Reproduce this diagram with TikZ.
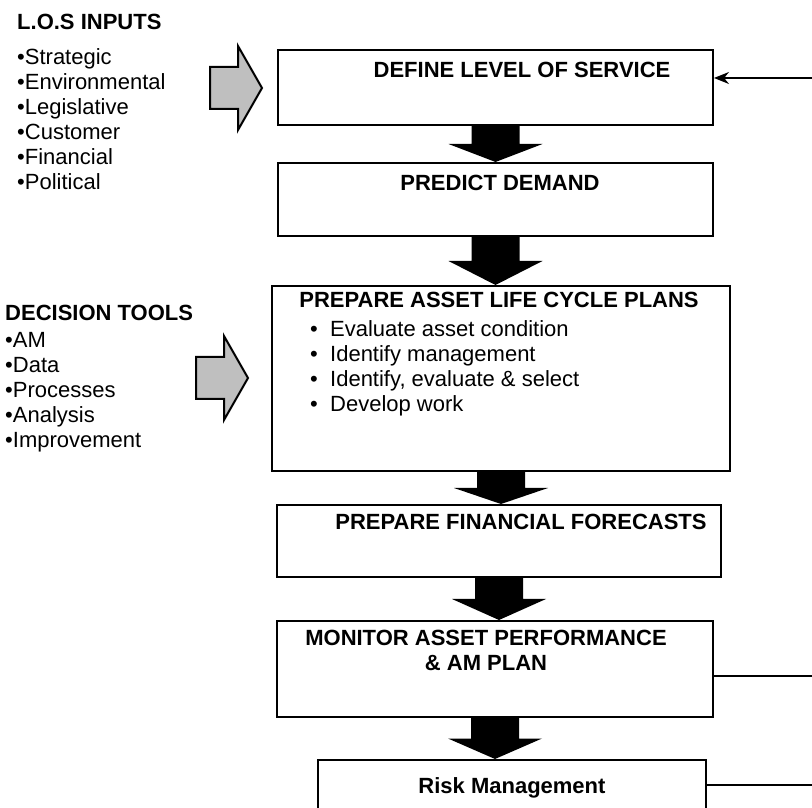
\documentclass[tikz,border=0pt]{standalone}
\usepackage{fontspec}
\setmainfont{Liberation Sans}
\usepackage{tikz}
\usetikzlibrary{calc,arrows.meta}

% fat black arrow from one stage down to the next
\newcommand{\blockdown}[2]{%
  \fill let \p1=(#1.south), \p2=(#2.north) in
    (\x1-24pt,\y1) -- (\x1+24pt,\y1) -- (\x1+24pt,{(\y1+\y2)/2})
    -- (\x1+47pt,{(\y1+\y2)/2}) -- (\x1,\y2)
    -- (\x1-47pt,{(\y1+\y2)/2}) -- (\x1-24pt,{(\y1+\y2)/2}) -- cycle;}

\begin{document}
\begin{tikzpicture}[x=1pt, y=1pt, >={Stealth[length=15pt,width=12pt]},
    stage/.style={draw, line width=2pt, inner sep=0pt},
    title/.style={font=\fontsize{22}{25}\selectfont\bfseries, anchor=base, inner sep=0pt},
    item/.style={font=\fontsize{22}{25}\selectfont, anchor=base west, inner sep=0pt},
    sidearrow/.style={draw, line width=2pt, fill=black!25, line join=miter}]

    \clip (0,0) rectangle (812,807);

    % stages
    \node[stage, minimum width=435, minimum height=75] (define) at (495.5,719.5) {};
    \node[stage, minimum width=435, minimum height=73] (demand) at (495.5,607.5) {};
    \node[stage, minimum width=458, minimum height=185] (plans) at (501,428.5) {};
    \node[stage, minimum width=444, minimum height=72] (finance) at (499,266) {};
    \node[stage, minimum width=436, minimum height=96] (monitor) at (495,138) {};
    \node[stage, minimum width=388, minimum height=75] (risk) at (512,9.5) {};

    \node[title] (defineT) at (522,729) {DEFINE LEVEL OF SERVICE};
    \node[title] (demandT) at (500,616) {PREDICT DEMAND};
    \node[title] (plansT) at (499,499) {PREPARE ASSET LIFE CYCLE PLANS};
    \node[title] (financeT) at (521,277) {PREPARE FINANCIAL FORECASTS};
    \node[title, anchor=center, align=center] (monitorT) at (486,157)
        {MONITOR ASSET PERFORMANCE\\\& AM PLAN};
    \node[title] (riskT) at (512,14) {Risk Management};

    \foreach \y/\txt [count=\i] in {470/Evaluate asset condition,
        445/Identify management, 420/{Identify, evaluate \& select}, 395/Develop work}
        \node[item, name=plan\i] at (310,\y) {\makebox[20pt][l]{•}\txt};

    \blockdown{define}{demand}
    \blockdown{demand}{plans}
    \blockdown{plans}{finance}
    \blockdown{finance}{monitor}
    \blockdown{monitor}{risk}

    % inputs on the left
    \node[title, anchor=base west] (los) at (17,777) {L.O.S INPUTS};
    \foreach \y/\txt [count=\i] in {742/Strategic, 717/Environmental, 692/Legislative,
        667/Customer, 642/Financial, 617/Political}
        \node[item, name=los\i] at (17,\y) {•\txt};

    \node[title, anchor=base west] (tools) at (5,486) {DECISION TOOLS};
    \foreach \y/\txt [count=\i] in {459/AM, 434/Data, 409/Processes, 384/Analysis,
        359/Improvement}
        \node[item, name=tool\i] at (5,\y) {•\txt};

    \coordinate (tip1) at (262,719);
    \coordinate (tip2) at (248,429);
    \foreach \t in {tip1, tip2}
        \draw[sidearrow, shift={(\t)}] (0,0) -- (-24,42) -- (-24,21) -- (-52,21)
            -- (-52,-21) -- (-24,-21) -- (-24,-42) -- cycle;

    % feedback lines on the right
    \coordinate (back) at (812,729);
    \coordinate (fromMonitor) at (812,131);
    \coordinate (fromRisk) at (812,22);
    \draw[->, line width=1.5pt] (back) -- (back -| define.east);
    \draw[line width=1.5pt] (fromMonitor -| monitor.east) -- (fromMonitor);
    \draw[line width=1.5pt] (fromRisk -| risk.east) -- (fromRisk);
\end{tikzpicture}
\end{document}
